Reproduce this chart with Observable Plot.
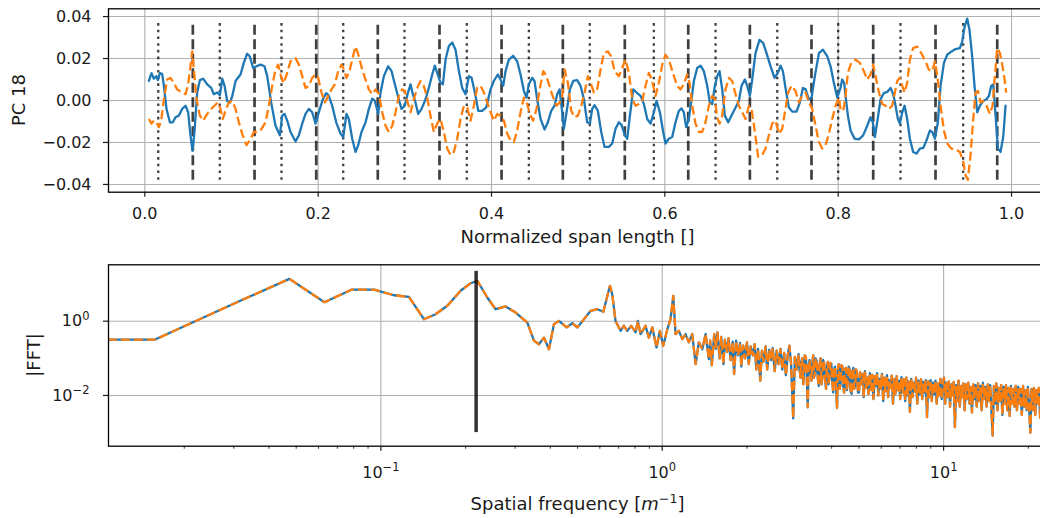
<!DOCTYPE html>
<html><head><meta charset="utf-8">
<script src="https://cdn.jsdelivr.net/npm/d3@7"></script>
<script src="https://cdn.jsdelivr.net/npm/@observablehq/plot@0.6"></script>
<style>
html,body{margin:0;padding:0;background:#fff;overflow:hidden;}
#chart{position:relative;width:1040px;height:518px;overflow:hidden;background:#fff;}
#chart svg{display:block;max-width:none !important;}
</style></head><body><div id="chart"></div>
<script>
// ---------- DATA ----------
// PC 18, first component (blue, solid): [normalized span, value]
const pcBlue = [
[0.0047,0.0093],[0.0077,0.0130],[0.0104,0.0104],[0.0131,0.0116],[0.0150,0.0097],[0.0173,0.0130],[0.0200,0.0127],[0.0220,0.0070],[0.0250,-0.0040],[0.0289,-0.0104],
[0.0323,-0.0104],[0.0354,-0.0080],[0.0393,-0.0072],[0.0431,-0.0040],[0.0470,-0.0025],[0.0500,-0.0056],[0.0527,-0.0166],[0.0550,-0.0240],[0.0573,-0.0150],[0.0604,0.0038],
[0.0635,0.0097],[0.0673,0.0104],[0.0720,0.0077],[0.0766,0.0060],[0.0796,0.0030],[0.0835,0.0038],[0.0866,0.0025],[0.0893,0.0104],[0.0920,0.0070],[0.0950,-0.0002],
[0.0981,-0.0010],[0.1008,0.0019],[0.1047,0.0093],[0.1104,0.0124],[0.1143,0.0180],[0.1181,0.0223],[0.1212,0.0210],[0.1250,0.0155],[0.1289,0.0163],[0.1335,0.0171],
[0.1381,0.0163],[0.1412,0.0116],[0.1458,-0.0010],[0.1508,-0.0120],[0.1558,-0.0166],[0.1585,-0.0072],[0.1612,-0.0064],[0.1643,-0.0096],[0.1681,-0.0150],[0.1739,-0.0195],
[0.1777,-0.0166],[0.1816,-0.0110],[0.1854,-0.0064],[0.1893,-0.0040],[0.1931,-0.0056],[0.1970,-0.0110],[0.2008,-0.0056],[0.2054,0.0006],[0.2093,0.0035],[0.2123,0.0022],
[0.2162,-0.0025],[0.2208,-0.0104],[0.2258,-0.0158],[0.2289,-0.0174],[0.2327,-0.0064],[0.2354,-0.0088],[0.2393,-0.0182],[0.2431,-0.0245],[0.2462,-0.0213],[0.2500,-0.0150],
[0.2547,-0.0104],[0.2585,-0.0040],[0.2624,0.0009],[0.2654,-0.0002],[0.2693,-0.0064],[0.2720,0.0038],[0.2758,0.0116],[0.2808,0.0163],[0.2847,0.0140],[0.2885,0.0077],
[0.2924,0.0014],[0.2962,-0.0040],[0.3000,-0.0025],[0.3031,0.0030],[0.3066,0.0077],[0.3092,0.0030],[0.3123,-0.0009],[0.3154,-0.0064],[0.3193,-0.0040],[0.3239,0.0006],
[0.3277,0.0060],[0.3316,0.0124],[0.3346,0.0166],[0.3373,0.0132],[0.3412,0.0085],[0.3439,0.0077],[0.3470,0.0195],[0.3508,0.0260],[0.3547,0.0276],[0.3585,0.0242],
[0.3624,0.0140],[0.3662,0.0060],[0.3700,0.0030],[0.3739,0.0116],[0.3770,0.0108],[0.3808,0.0038],[0.3847,-0.0049],[0.3893,-0.0049],[0.3939,-0.0033],[0.3989,0.0053],
[0.4027,0.0093],[0.4073,0.0124],[0.4112,0.0093],[0.4135,0.0070],[0.4162,0.0140],[0.4200,0.0195],[0.4250,0.0213],[0.4296,0.0187],[0.4335,0.0124],[0.4374,0.0045],
[0.4404,0.0014],[0.4431,0.0077],[0.4470,0.0108],[0.4496,0.0093],[0.4527,0.0006],[0.4566,-0.0088],[0.4612,-0.0138],[0.4650,-0.0104],[0.4689,-0.0049],[0.4727,-0.0025],
[0.4758,0.0030],[0.4785,0.0053],[0.4816,-0.0056],[0.4835,-0.0135],[0.4866,-0.0056],[0.4904,0.0053],[0.4943,0.0093],[0.4989,0.0097],[0.5027,0.0070],[0.5066,0.0006],
[0.5104,-0.0104],[0.5135,-0.0110],[0.5162,-0.0040],[0.5189,-0.0022],[0.5227,-0.0049],[0.5266,-0.0150],[0.5304,-0.0221],[0.5354,-0.0221],[0.5393,-0.0205],[0.5431,-0.0135],
[0.5470,-0.0104],[0.5500,-0.0116],[0.5539,-0.0166],[0.5566,-0.0182],[0.5597,-0.0072],[0.5635,0.0053],[0.5674,0.0038],[0.5720,0.0022],[0.5758,-0.0017],[0.5797,-0.0088],
[0.5835,-0.0110],[0.5874,-0.0056],[0.5904,-0.0002],[0.5943,-0.0056],[0.5981,-0.0150],[0.6008,-0.0205],[0.6046,-0.0182],[0.6085,-0.0174],[0.6123,-0.0104],[0.6162,-0.0049],
[0.6193,-0.0038],[0.6219,-0.0056],[0.6246,-0.0127],[0.6277,-0.0088],[0.6308,0.0006],[0.6335,0.0093],[0.6373,0.0155],[0.6412,0.0166],[0.6450,0.0140],[0.6489,0.0070],
[0.6519,-0.0009],[0.6546,-0.0017],[0.6577,0.0070],[0.6604,0.0116],[0.6631,0.0140],[0.6662,0.0053],[0.6692,-0.0072],[0.6731,-0.0104],[0.6769,-0.0072],[0.6816,-0.0033],
[0.6854,-0.0002],[0.6885,0.0070],[0.6923,0.0100],[0.6950,0.0070],[0.6981,0.0022],[0.7008,0.0100],[0.7046,0.0226],[0.7092,0.0289],[0.7135,0.0273],[0.7173,0.0226],
[0.7220,0.0163],[0.7265,0.0108],[0.7304,0.0132],[0.7335,0.0166],[0.7362,0.0140],[0.7392,0.0060],[0.7431,-0.0033],[0.7470,-0.0053],[0.7519,-0.0053],[0.7558,-0.0009],
[0.7593,0.0060],[0.7624,0.0053],[0.7662,0.0006],[0.7693,0.0014],[0.7731,0.0116],[0.7778,0.0226],[0.7824,0.0242],[0.7874,0.0210],[0.7912,0.0163],[0.7950,0.0085],
[0.7989,0.0014],[0.8027,0.0060],[0.8046,0.0100],[0.8070,0.0082],[0.8085,0.0022],[0.8112,-0.0072],[0.8143,-0.0143],[0.8189,-0.0182],[0.8239,-0.0185],[0.8288,-0.0166],
[0.8335,-0.0120],[0.8373,-0.0080],[0.8400,-0.0104],[0.8423,-0.0174],[0.8450,-0.0104],[0.8489,0.0006],[0.8527,0.0035],[0.8566,0.0041],[0.8604,0.0060],[0.8635,0.0030],
[0.8662,-0.0025],[0.8689,-0.0088],[0.8712,-0.0110],[0.8739,-0.0056],[0.8766,-0.0025],[0.8796,-0.0088],[0.8827,-0.0182],[0.8865,-0.0245],[0.8904,-0.0253],[0.8942,-0.0229],
[0.8981,-0.0226],[0.9019,-0.0190],[0.9058,-0.0143],[0.9085,-0.0150],[0.9116,-0.0182],[0.9150,-0.0104],[0.9181,0.0070],[0.9220,0.0179],[0.9258,0.0218],[0.9308,0.0234],
[0.9354,0.0245],[0.9404,0.0250],[0.9431,0.0281],[0.9458,0.0351],[0.9489,0.0390],[0.9515,0.0336],[0.9546,0.0210],[0.9573,0.0070],[0.9604,-0.0056],[0.9635,-0.0025],
[0.9673,-0.0002],[0.9712,0.0006],[0.9739,0.0022],[0.9766,0.0070],[0.9789,0.0077],[0.9816,-0.0072],[0.9843,-0.0229],[0.9873,-0.0245],[0.9904,-0.0174],[0.9931,-0.0025]
];
// PC 18, second component (orange, dashed)
const pcOrange = [
[0.0047,-0.0088],[0.0077,-0.0110],[0.0104,-0.0096],[0.0135,-0.0104],[0.0162,-0.0127],[0.0189,-0.0096],[0.0220,0.0006],[0.0258,0.0100],[0.0296,0.0108],[0.0335,0.0085],
[0.0373,0.0053],[0.0420,0.0041],[0.0470,0.0030],[0.0497,0.0070],[0.0527,0.0163],[0.0547,0.0234],[0.0566,0.0147],[0.0597,0.0006],[0.0635,-0.0072],[0.0673,-0.0096],
[0.0720,-0.0064],[0.0766,-0.0040],[0.0804,-0.0025],[0.0843,-0.0009],[0.0873,-0.0040],[0.0900,-0.0088],[0.0931,-0.0048],[0.0970,-0.0009],[0.1008,-0.0002],[0.1047,-0.0040],
[0.1085,-0.0104],[0.1123,-0.0158],[0.1173,-0.0213],[0.1212,-0.0190],[0.1258,-0.0150],[0.1296,-0.0150],[0.1343,-0.0138],[0.1393,-0.0104],[0.1431,-0.0025],[0.1470,0.0070],
[0.1508,0.0147],[0.1539,0.0171],[0.1566,0.0124],[0.1597,0.0082],[0.1631,0.0116],[0.1681,0.0187],[0.1739,0.0202],[0.1777,0.0171],[0.1816,0.0116],[0.1854,0.0060],
[0.1893,0.0070],[0.1931,0.0108],[0.1970,0.0124],[0.2000,0.0108],[0.2039,0.0038],[0.2077,-0.0009],[0.2116,0.0022],[0.2154,0.0053],[0.2193,0.0077],[0.2231,0.0140],
[0.2270,0.0171],[0.2297,0.0147],[0.2327,0.0108],[0.2362,0.0140],[0.2401,0.0210],[0.2431,0.0257],[0.2470,0.0210],[0.2508,0.0147],[0.2547,0.0100],[0.2585,0.0053],
[0.2624,0.0030],[0.2662,0.0053],[0.2701,0.0030],[0.2739,-0.0056],[0.2777,-0.0120],[0.2816,-0.0150],[0.2855,-0.0120],[0.2893,-0.0056],[0.2931,0.0022],[0.2970,0.0053],
[0.3000,0.0045],[0.3027,-0.0002],[0.3066,-0.0056],[0.3104,0.0006],[0.3143,0.0060],[0.3181,0.0093],[0.3219,0.0070],[0.3258,0.0014],[0.3296,-0.0072],[0.3335,-0.0150],
[0.3373,-0.0110],[0.3412,-0.0088],[0.3450,-0.0150],[0.3489,-0.0229],[0.3527,-0.0260],[0.3566,-0.0245],[0.3604,-0.0182],[0.3643,-0.0088],[0.3681,-0.0025],[0.3719,-0.0033],
[0.3758,-0.0096],[0.3796,-0.0025],[0.3835,0.0060],[0.3874,0.0070],[0.3912,0.0038],[0.3950,-0.0009],[0.3989,-0.0056],[0.4027,-0.0096],[0.4066,-0.0064],[0.4104,-0.0072],
[0.4143,-0.0096],[0.4181,-0.0158],[0.4220,-0.0190],[0.4258,-0.0198],[0.4296,-0.0143],[0.4335,-0.0056],[0.4374,0.0014],[0.4412,-0.0017],[0.4443,-0.0064],[0.4481,-0.0096],
[0.4520,-0.0040],[0.4558,0.0060],[0.4597,0.0140],[0.4635,0.0116],[0.4674,0.0060],[0.4712,0.0014],[0.4750,-0.0025],[0.4789,-0.0009],[0.4816,0.0022],[0.4843,0.0147],
[0.4881,0.0085],[0.4920,-0.0049],[0.4958,-0.0080],[0.4997,-0.0072],[0.5035,-0.0025],[0.5074,0.0038],[0.5112,0.0116],[0.5143,0.0085],[0.5181,0.0038],[0.5219,0.0053],
[0.5258,0.0147],[0.5296,0.0226],[0.5343,0.0234],[0.5381,0.0210],[0.5420,0.0140],[0.5470,0.0116],[0.5508,0.0155],[0.5546,0.0195],[0.5585,0.0132],[0.5624,0.0006],
[0.5662,-0.0025],[0.5700,-0.0017],[0.5739,-0.0002],[0.5777,0.0070],[0.5816,0.0132],[0.5854,0.0093],[0.5893,0.0022],[0.5931,0.0085],[0.5970,0.0171],[0.6008,0.0218],
[0.6046,0.0195],[0.6092,0.0132],[0.6142,0.0070],[0.6181,0.0053],[0.6219,0.0077],[0.6258,0.0124],[0.6285,0.0085],[0.6316,-0.0025],[0.6354,-0.0110],[0.6393,-0.0150],
[0.6431,-0.0150],[0.6469,-0.0104],[0.6508,-0.0025],[0.6546,0.0022],[0.6577,0.0006],[0.6604,-0.0080],[0.6631,-0.0110],[0.6662,-0.0072],[0.6700,0.0053],[0.6739,0.0108],
[0.6777,0.0093],[0.6816,0.0030],[0.6854,-0.0025],[0.6893,-0.0056],[0.6931,-0.0088],[0.6970,-0.0025],[0.7000,-0.0040],[0.7039,-0.0150],[0.7077,-0.0268],[0.7123,-0.0260],
[0.7162,-0.0229],[0.7200,-0.0166],[0.7239,-0.0110],[0.7277,-0.0096],[0.7316,-0.0158],[0.7354,-0.0135],[0.7385,-0.0056],[0.7423,0.0038],[0.7462,0.0070],[0.7508,0.0045],
[0.7546,-0.0009],[0.7585,0.0022],[0.7624,0.0038],[0.7662,-0.0009],[0.7700,-0.0040],[0.7739,-0.0120],[0.7777,-0.0198],[0.7816,-0.0229],[0.7854,-0.0213],[0.7893,-0.0158],
[0.7931,-0.0088],[0.7970,-0.0025],[0.8008,0.0014],[0.8027,-0.0040],[0.8058,-0.0050],[0.8085,0.0022],[0.8112,0.0132],[0.8150,0.0179],[0.8200,0.0195],[0.8250,0.0179],
[0.8296,0.0140],[0.8335,0.0100],[0.8373,0.0124],[0.8404,0.0171],[0.8435,0.0108],[0.8470,0.0038],[0.8508,-0.0017],[0.8547,-0.0025],[0.8585,-0.0040],[0.8623,-0.0025],
[0.8650,0.0030],[0.8681,0.0093],[0.8712,0.0108],[0.8739,0.0070],[0.8766,0.0038],[0.8796,0.0085],[0.8827,0.0195],[0.8865,0.0250],[0.8912,0.0257],[0.8958,0.0226],
[0.9008,0.0187],[0.9046,0.0147],[0.9085,0.0140],[0.9116,0.0187],[0.9150,0.0100],[0.9181,-0.0025],[0.9220,-0.0143],[0.9258,-0.0205],[0.9304,-0.0229],[0.9354,-0.0232],
[0.9404,-0.0245],[0.9443,-0.0292],[0.9469,-0.0355],[0.9496,-0.0378],[0.9527,-0.0260],[0.9558,-0.0088],[0.9585,0.0038],[0.9612,0.0045],[0.9643,-0.0009],[0.9673,-0.0002],
[0.9712,-0.0025],[0.9750,-0.0064],[0.9781,-0.0025],[0.9808,0.0116],[0.9835,0.0250],[0.9866,0.0226],[0.9893,0.0171],[0.9920,0.0100],[0.9939,0.0038]
];
// vertical markers (normalized span)
const dashedMarks = [0.0554,0.1266,0.1978,0.2688,0.3400,0.4116,0.4823,0.5538,0.6270,0.6981,0.7692,0.8404,0.9123,0.9835];
const dottedMarks = [0.0155,0.0865,0.1577,0.2289,0.2996,0.3715,0.4431,0.5134,0.5873,0.6585,0.7297,0.8000,0.8719,0.9442];

// |FFT| spectrum: [spatial frequency 1/m, magnitude]
const fftSpectrum = [
[0.0107,0.32],[0.01575,0.32],[0.0315,3.5],[0.0473,13.8],[0.063,3.25],[0.0788,7.1],[0.0945,7.1],[0.1112,5.0],[0.1258,4.5],[0.1422,1.13],
[0.1564,1.54],[0.1722,2.6],[0.192,6.6],[0.2084,10.5],[0.2202,12.2],[0.2388,4.34],[0.2557,2.1],[0.2775,2.49],[0.3012,1.71],[0.3315,0.92],
[0.3499,0.30],[0.3645,0.24],[0.3797,0.36],[0.3956,0.176],[0.4121,0.83],[0.4293,1.02],[0.4571,0.68],[0.4792,0.88],[0.4992,0.68],[0.5268,1.13],
[0.5565,1.9],[0.5878,2.1],[0.6175,1.79],[0.638,4.83],[0.6517,8.97],[0.664,5.33],[0.682,1.02],[0.711,0.55],[0.730,0.75],[0.751,0.55],
[0.776,0.75],[0.804,0.50],[0.819,1.02],[0.837,0.45],[0.872,0.75],[0.896,0.36],[0.922,0.68],[0.954,0.196],[0.981,0.55],[1.008,0.217],
[1.042,0.60],[1.070,1.13],[1.094,4.83],[1.115,0.45],[1.146,0.55],[1.178,0.33],[1.210,0.45],[1.243,0.27],[1.278,0.45],[1.314,0.07],
[1.349,0.27],[1.388,0.176],[1.426,0.45],[1.464,0.095],
[1.48,0.30],[1.50,0.065],[1.53,0.45],[1.55,0.18],[1.57,0.50],[1.60,0.10],[1.62,0.38],[1.65,0.07],[1.67,0.32],[1.70,0.15],
[1.72,0.35],[1.75,0.09],[1.78,0.28],[1.80,0.038],[1.83,0.30],[1.86,0.12],[1.89,0.26],[1.91,0.06],[1.94,0.22],[1.97,0.10],
[2.00,0.27],[2.03,0.07],[2.06,0.21],[2.10,0.12],[2.13,0.24],[2.16,0.05],[2.19,0.18],[2.23,0.025],[2.26,0.16],[2.29,0.08],
[2.33,0.21],[2.36,0.05],[2.40,0.17],[2.44,0.09],[2.47,0.19],[2.51,0.045],[2.55,0.16],[2.59,0.07],[2.63,0.18],[2.67,0.05],
[2.71,0.14],[2.75,0.035],[2.79,0.12],[2.83,0.22],[2.87,0.07],[2.92,0.0024],[2.96,0.11],
[3.01,0.05],[3.03,0.09],[3.05,0.13],[3.07,0.06],[3.10,0.03],[3.12,0.08],[3.14,0.10],[3.17,0.02],[3.19,0.045],[3.21,0.12],
[3.24,0.11],[3.26,0.04],[3.29,0.0048],[3.31,0.06],[3.34,0.09],[3.36,0.05],[3.39,0.025],[3.41,0.07],[3.44,0.12],[3.46,0.03],
[3.49,0.04],[3.51,0.10],[3.54,0.085],[3.57,0.03],[3.60,0.018],[3.62,0.06],[3.65,0.10],[3.68,0.02],[3.71,0.035],[3.73,0.09],
[3.76,0.075],[3.79,0.025],[3.82,0.015],[3.85,0.065],[3.88,0.08],[3.90,0.02],[3.93,0.03],[3.96,0.075],[3.99,0.07],[4.02,0.025],
[4.05,0.012],[4.08,0.05],[4.11,0.06],[4.14,0.02],[4.18,0.0046],[4.21,0.05],[4.24,0.07],[4.27,0.015],[4.30,0.02],[4.33,0.065],
[4.37,0.06],[4.40,0.018],[4.43,0.012],[4.46,0.05],[4.50,0.055],[4.53,0.014],[4.57,0.025],[4.60,0.06],[4.64,0.05],[4.67,0.013],
[4.71,0.011],[4.74,0.045],[4.78,0.055],[4.81,0.015],[4.85,0.018],[4.88,0.05],[4.92,0.045],[4.96,0.012],
[5.00,0.012],[5.05,0.042],[5.10,0.02],[5.15,0.038],[5.20,0.009],[5.25,0.045],[5.31,0.016],[5.36,0.03],[5.41,0.011],[5.47,0.04],
[5.52,0.014],[5.58,0.036],[5.63,0.008],[5.69,0.033],[5.75,0.018],[5.80,0.04],[5.86,0.01],[5.92,0.028],[5.98,0.015],[6.04,0.038],
[6.10,0.007],[6.16,0.03],[6.22,0.013],[6.29,0.035],[6.35,0.009],[6.41,0.026],[6.48,0.016],[6.54,0.034],[6.61,0.006],[6.67,0.028],
[6.74,0.011],[6.81,0.033],[6.87,0.014],[6.94,0.025],[7.01,0.008],[7.08,0.031],[7.15,0.012],[7.22,0.027],[7.30,0.007],[7.37,0.03],
[7.44,0.01],[7.52,0.024],[7.59,0.0036],[7.67,0.028],[7.75,0.009],[7.82,0.022],[7.90,0.013],[7.98,0.03],[8.06,0.006],[8.14,0.025],
[8.22,0.011],[8.31,0.027],[8.39,0.008],[8.47,0.023],[8.56,0.012],[8.64,0.026],[8.73,0.0026],[8.82,0.024],[8.90,0.009],[8.99,0.026],
[9.08,0.007],[9.17,0.022],[9.27,0.011],[9.36,0.025],[9.45,0.006],[9.55,0.021],[9.64,0.01],[9.74,0.028],[9.84,0.008],[9.93,0.02],
[10.03,0.03],[10.13,0.006],[10.23,0.022],[10.34,0.009],[10.44,0.024],[10.54,0.005],[10.65,0.02],[10.76,0.01],[10.86,0.023],[10.97,0.0014],
[11.08,0.019],[11.19,0.007],[11.30,0.025],[11.42,0.005],[11.53,0.018],[11.65,0.009],[11.76,0.021],[11.88,0.004],[12.00,0.02],[12.12,0.008],
[12.24,0.022],[12.36,0.006],[12.49,0.017],[12.61,0.0035],[12.74,0.02],[12.87,0.008],[12.99,0.019],[13.12,0.005],[13.26,0.021],[13.39,0.007],
[13.52,0.018],[13.66,0.004],[13.79,0.022],[13.93,0.008],[14.07,0.017],[14.21,0.005],[14.35,0.02],[14.50,0.007],[14.64,0.019],[14.79,0.004],
[14.94,0.00083],[15.09,0.018],[15.24,0.006],[15.39,0.021],[15.54,0.004],[15.70,0.016],[15.86,0.007],[16.01,0.019],[16.17,0.003],[16.34,0.017],
[16.50,0.006],[16.66,0.019],[16.83,0.004],[17.00,0.016],[17.17,0.0028],[17.34,0.018],[17.51,0.006],[17.69,0.015],[17.87,0.005],[18.04,0.018],
[18.22,0.004],[18.41,0.017],[18.59,0.006],[18.78,0.015],[18.97,0.003],[19.16,0.018],[19.35,0.005],[19.54,0.014],[19.74,0.004],[19.93,0.017],
[20.13,0.005],[20.34,0.001],[20.54,0.015],[20.75,0.004],[20.95,0.016],[21.16,0.003],[21.38,0.014],[21.59,0.006],[21.81,0.016],[22.03,0.0025],
[22.25,0.014],[22.47,0.004],[22.70,0.015],[22.92,0.0035],[23.15,0.013],[23.39,0.005],[23.5,0.012]
];
const peakFrequency = 0.218;

// ticks and labels
const topXTicks = [0, 0.2, 0.4, 0.6, 0.8, 1.0];
const topYTicks = [-0.04, -0.02, 0, 0.02, 0.04];
const botXTicks = [0.1, 1, 10];
const botXTickLabels = ["10^\u22121", "10^0", "10^1"];
const botXMinor = [0.02,0.03,0.04,0.05,0.06,0.07,0.08,0.09,0.2,0.3,0.4,0.5,0.6,0.7,0.8,0.9,2,3,4,5,6,7,8,9,20];
const botYTicks = [0.01, 1];
const botYTickLabels = ["10^\u22122", "10^0"];

// ---------- STYLE ----------
const FONT = "DejaVu Sans";
const TXT = "#1a1a1a";
const BLUE = "#1f77b4", ORANGE = "#ff7f0e";
const grid = {stroke: "#b0b0b0", strokeOpacity: 1, strokeWidth: 1.1};
const baseStyle = {fontFamily: FONT, fontSize: "16px", color: TXT, background: "white", overflow: "visible", maxWidth: "none"};
const X = d => d[0], Y = d => d[1];
const fmtTop = d => (d < 0 ? "\u2212" : "") + Math.abs(d).toFixed(2);

const topPlot = Plot.plot({
  width: 1080, height: 255,
  marginLeft: 108, marginRight: 33, marginTop: 8.3, marginBottom: 63.3,
  style: baseStyle,
  x: {domain: [-0.0419, 1.0415], label: null},
  y: {domain: [-0.0437, 0.0437], label: null},
  marks: [
    Plot.gridX(topXTicks, grid),
    Plot.gridY(topYTicks, grid),
    Plot.ruleX(dashedMarks, {y1: -0.038, y2: 0.038, stroke: "#000", strokeOpacity: 0.75, strokeWidth: 2.7, strokeDasharray: "10,4.5", strokeLinecap: "butt"}),
    Plot.ruleX(dottedMarks, {y1: -0.038, y2: 0.038, stroke: "#000", strokeOpacity: 0.75, strokeWidth: 2.3, strokeDasharray: "2.6,4.1", strokeLinecap: "butt"}),
    Plot.line(pcBlue, {x: X, y: Y, stroke: BLUE, strokeWidth: 2.3}),
    Plot.line(pcOrange, {x: X, y: Y, stroke: ORANGE, strokeWidth: 2.3, strokeDasharray: "9,4", strokeLinecap: "butt"}),
    Plot.frame({stroke: "#000", strokeWidth: 1.3}),
    Plot.axisX(topXTicks, {tickFormat: d => d.toFixed(1), tickSize: 5, tickPadding: 10, label: null, strokeWidth: 1.2}),
    Plot.axisY(topYTicks, {tickFormat: fmtTop, tickSize: 5, tickPadding: 12, label: null, strokeWidth: 1.2})
  ]
});

const botPlot = Plot.plot({
  width: 1080, height: 263,
  marginLeft: 108, marginRight: 33, marginTop: 9.3, marginBottom: 72.3,
  style: baseStyle,
  x: {type: "log", domain: [0.01076, 23.4], label: null},
  y: {type: "log", domain: [4.3e-4, 33], label: null},
  marks: [
    Plot.gridX(botXTicks, grid),
    Plot.gridY(botYTicks, grid),
    Plot.line(fftSpectrum, {x: X, y: Y, stroke: BLUE, strokeWidth: 2.3, clip: true}),
    Plot.line(fftSpectrum, {x: X, y: Y, stroke: ORANGE, strokeWidth: 2.3, strokeDasharray: "9,4", strokeLinecap: "butt", clip: true}),
    Plot.ruleX([peakFrequency], {y1: 1e-3, y2: 22, stroke: "#000", strokeOpacity: 0.8, strokeWidth: 3.5}),
    Plot.frame({stroke: "#000", strokeWidth: 1.3}),
    Plot.axisX(botXTicks, {tickFormat: d => botXTickLabels[botXTicks.indexOf(d)], tickSize: 5, tickPadding: 15, label: null, strokeWidth: 1.2}),
    Plot.axisX(botXMinor, {tickFormat: () => "", tickSize: 3, label: null, strokeWidth: 0.9}),
    Plot.axisY(botYTicks, {tickFormat: d => botYTickLabels[botYTicks.indexOf(d)], tickSize: 5, tickPadding: 14, label: null, strokeWidth: 1.2})
  ]
});

const chart = document.getElementById("chart");
chart.appendChild(topPlot);
chart.appendChild(botPlot);

// mathtext-like superscripts for log tick labels ("10^-1" -> 10 with raised -1)
d3.select(botPlot).selectAll("text").each(function() {
  const s = this.textContent;
  const i = s.indexOf("^");
  if (i < 0) return;
  const t = d3.select(this);
  t.text(null);
  t.append("tspan").text(s.slice(0, i));
  t.append("tspan").attr("dy", -6.5).attr("font-size", 11.5).text(s.slice(i + 1));
});

// axis titles
const LBL = 18;
const tSel = d3.select(topPlot);
tSel.append("text").attr("x", 577.5).attr("y", 243).attr("text-anchor", "middle")
  .attr("fill", TXT).attr("font-family", FONT).attr("font-size", LBL).text("Normalized span length []");
tSel.append("text").attr("transform", "translate(25,100) rotate(-90)").attr("text-anchor", "middle")
  .attr("fill", TXT).attr("font-family", FONT).attr("font-size", LBL).text("PC 18");

const bSel = d3.select(botPlot);
const xl = bSel.append("text").attr("x", 577.5).attr("y", 255).attr("text-anchor", "middle")
  .attr("fill", TXT).attr("font-family", FONT).attr("font-size", LBL);
xl.append("tspan").text("Spatial frequency [");
xl.append("tspan").attr("font-style", "italic").text("m");
xl.append("tspan").attr("dy", -7.5).attr("font-size", 12.6).text("\u22121");
xl.append("tspan").attr("dy", 7.5).text("]");
bSel.append("text").attr("transform", "translate(39.5,100) rotate(-90)").attr("text-anchor", "middle")
  .attr("fill", TXT).attr("font-family", FONT).attr("font-size", LBL).text("|FFT|");
</script></body></html>
